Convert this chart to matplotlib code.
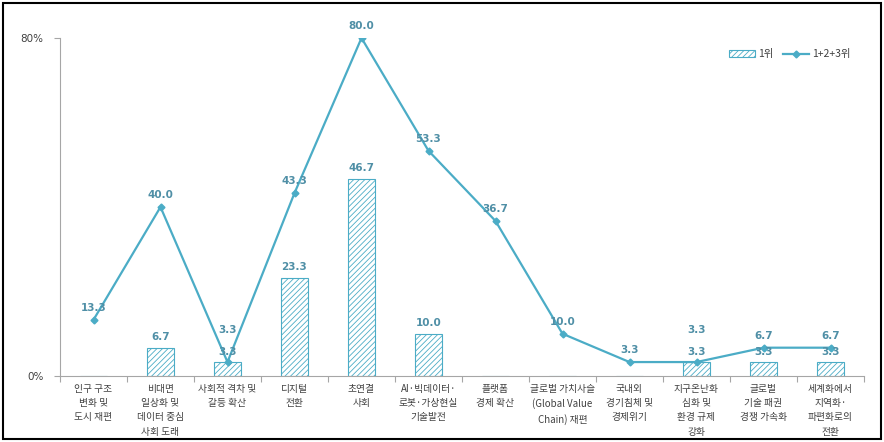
import matplotlib
matplotlib.use("Agg")
import matplotlib.pyplot as plt
from matplotlib.patches import Rectangle, Patch
from matplotlib.lines import Line2D

plt.rcParams['font.family'] = ['Noto Sans CJK KR', 'DejaVu Sans']
plt.rcParams['hatch.linewidth'] = 0.6

categories = [
    "인구 구조\n변화 및\n도시 재편",
    "비대면\n일상화 및\n데이터 중심\n사회 도래",
    "사회적 격차 및\n갈등 확산",
    "디지털\n전환",
    "초연결\n사회",
    "AI·빅데이터·\n로봇·가상현실\n기술발전",
    "플랫폼\n경제 확산",
    "글로벌 가치사슬\n(Global Value\nChain) 재편",
    "국내외\n경기침체 및\n경제위기",
    "지구온난화\n심화 및\n환경 규제\n강화",
    "글로벌\n기술 패권\n경쟁 가속화",
    "세계화에서\n지역화·\n파편화로의\n전환",
]
first_rank = [0.0, 6.7, 3.3, 23.3, 46.7, 10.0, 0.0, 0.0, 0.0, 3.3, 3.3, 3.3]
top_three = [13.3, 40.0, 3.3, 43.3, 80.0, 53.3, 36.7, 10.0, 3.3, 3.3, 6.7, 6.7]
series_names = ["1위", "1+2+3위"]
y_ticks = [0, 80]
y_tick_labels = ["0%", "80%"]

teal = "#4BACC6"
label_col = "#4F8FA6"
axis_col = "#A6A6A6"
text_col = "#404040"

fig = plt.figure(figsize=(8.84, 4.42), dpi=100)
ax = fig.add_axes([60 / 884, 66 / 442, 804 / 884, 338 / 442])

x = list(range(len(categories)))
ax.bar(x, first_rank, width=0.4, facecolor="white", edgecolor=teal,
       hatch="//////", linewidth=0.8, zorder=2)
ax.plot(x, top_three, color=teal, linewidth=1.6, marker="D", markersize=3.5,
        zorder=3)

# bar value labels (skip empty bars)
for xi, v in zip(x, first_rank):
    if v > 0:
        ax.annotate(f"{v:.1f}", (xi, v), xytext=(0, 4), textcoords="offset points",
                    ha="center", va="bottom", fontsize=7.5, fontweight="bold",
                    color=label_col, family="DejaVu Sans", zorder=4)

# line value labels; lifted higher where they would sit on a bar label
lift = {2: 14.5, 9: 14.5}
for xi, v in zip(x, top_three):
    ax.annotate(f"{v:.1f}", (xi, v), xytext=(0, 5 + lift.get(xi, 0)),
                textcoords="offset points", ha="center", va="bottom",
                fontsize=7.5, fontweight="bold", color=label_col,
                family="DejaVu Sans", zorder=4)

ax.set_xlim(-0.5, len(categories) - 0.5)
ax.set_ylim(0, 80)
ax.set_yticks(y_ticks)
ax.set_yticklabels(y_tick_labels, fontsize=7.5, color=text_col, family="DejaVu Sans")
ax.set_xticks([i - 0.5 for i in range(len(categories) + 1)])
ax.set_xticklabels([])
ax.tick_params(axis="both", color=axis_col, length=4, width=0.8)
ax.tick_params(axis="y", pad=8)

for xi, lab in zip(x, categories):
    ax.text(xi, -1.8, lab, ha="center", va="top", fontsize=7, color=text_col,
            linespacing=1.55)

for s in ["top", "right"]:
    ax.spines[s].set_visible(False)
for s in ["left", "bottom"]:
    ax.spines[s].set_color(axis_col)
    ax.spines[s].set_linewidth(0.8)

handles = [
    Patch(facecolor="white", edgecolor=teal, hatch="//////", linewidth=0.8),
    Line2D([0], [0], color=teal, linewidth=1.6, marker="D", markersize=3.5),
]
ax.legend(handles, series_names, loc="upper right", bbox_to_anchor=(860 / 884, 402 / 442),
          bbox_transform=fig.transFigure, ncol=2, frameon=False, fontsize=7.5,
          handlelength=2.5, handletextpad=0.3, columnspacing=0.9,
          labelcolor=text_col)

fig.patches.append(Rectangle((3 / 884, 3 / 442), 878 / 884, 436 / 442,
                             transform=fig.transFigure, fill=False,
                             edgecolor="black", linewidth=1.5))

fig.savefig("out.png", dpi=100)
